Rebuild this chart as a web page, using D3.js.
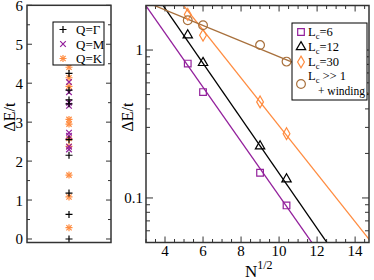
<!DOCTYPE html>
<html>
<head>
<meta charset="utf-8">
<script src="https://cdn.jsdelivr.net/npm/d3@7"></script>
<style>
  body { margin: 0; background: #fff; }
  text { font-family: "Liberation Serif", "DejaVu Serif", serif; fill: #000; }
</style>
</head>
<body>
<div id="chart"></div>
<script>
// left panel: excitation levels per momentum
const levelsGamma = [0, 0.63, 1.18, 2.15, 2.55, 3.47, 3.57, 3.82, 4.25];
const levelsM = [2.3, 2.37, 2.65, 2.73, 3.42, 3.5, 3.77, 4.03];
const levelsK = [0.29, 1.08, 1.64, 2.38, 2.58, 2.95, 3.07, 3.92, 4.14, 4.41];
const leftTicks = [0, 1, 2, 3, 4, 5, 6];

// right panel: gap vs sqrt(N)
const sqrtN = [5.196, 6, 9, 10.392];
const gapL6 = [0.81, 0.52, 0.148, 0.089];
const gapL12 = [1.26, 0.82, 0.224, 0.134];
const gapL30 = [1.74, 1.26, 0.446, 0.272];
const gapWind = [1.59, 1.47, 1.08, 0.835];

// fitted lines, two end points each
const fitL6 = [[3, 1.99], [12, 0.0445]];
const fitL12 = [[3, 2.94], [13, 0.0406]];
const fitL30 = [[3, 4.18], [15, 0.0475]];
const fitWind = [[3, 2.11], [15, 0.49]];

const xTicks = [4, 6, 8, 10, 12, 14];
const yTicks = [0.1, 1];

const purple = "#93209c", orange = "#ff8c40", brown = "#a8703c";

const svg = d3.select("#chart").append("svg")
    .attr("width", 374).attr("height", 280);

// ---------- left panel ----------
const xl = d3.scaleLinear().domain([0, 1]).range([27, 111]);
const yl = d3.scaleLinear().domain([-0.09, 6]).range([242.5, 5.3]);

const left = svg.append("g");

// ticks inward on both sides
const lMajor = leftTicks;
const lMinor = d3.range(0.5, 6, 1);
lMajor.forEach(v => {
    left.append("line").attr("x1", xl(0)).attr("x2", xl(0) + 5)
        .attr("y1", yl(v)).attr("y2", yl(v)).attr("stroke", "#333");
    left.append("line").attr("x1", xl(1)).attr("x2", xl(1) - 5)
        .attr("y1", yl(v)).attr("y2", yl(v)).attr("stroke", "#333");
    left.append("text").attr("x", xl(0) - 4).attr("y", yl(v) + 5.5)
        .attr("text-anchor", "end").style("font-size", "15px").text(v);
});
lMinor.forEach(v => {
    left.append("line").attr("x1", xl(0)).attr("x2", xl(0) + 3)
        .attr("y1", yl(v)).attr("y2", yl(v)).attr("stroke", "#333");
    left.append("line").attr("x1", xl(1)).attr("x2", xl(1) - 3)
        .attr("y1", yl(v)).attr("y2", yl(v)).attr("stroke", "#333");
});

const plus = (g, x, y, s, c) => {
    g.append("path").attr("d", `M${x - s},${y}H${x + s}M${x},${y - s}V${y + s}`)
        .attr("stroke", c).attr("stroke-width", 1.2).attr("fill", "none");
};
const cross = (g, x, y, s, c) => {
    g.append("path").attr("d", `M${x - s},${y - s}L${x + s},${y + s}M${x - s},${y + s}L${x + s},${y - s}`)
        .attr("stroke", c).attr("stroke-width", 1.2).attr("fill", "none");
};
const star = (g, x, y, s, c) => {
    plus(g, x, y, s, c);
    cross(g, x, y, s * 0.75, c);
};

levelsK.forEach(v => star(left, xl(0.5), yl(v), 3.5, orange));
levelsM.forEach(v => cross(left, xl(0.5), yl(v), 2.8, purple));
levelsGamma.forEach(v => plus(left, xl(0.5), yl(v), 3.5, "#000"));

left.append("rect").attr("x", xl(0)).attr("y", yl(6))
    .attr("width", xl(1) - xl(0)).attr("height", yl(-0.09) - yl(6))
    .attr("fill", "none").attr("stroke", "#333").attr("stroke-width", 1.5);

// legend
const lLeg = left.append("g");
lLeg.append("rect").attr("x", 53).attr("y", 22).attr("width", 51).attr("height", 43)
    .attr("fill", "#fff").attr("stroke", "#000");
const lItems = [["Q=\u0393", plus, "#000"], ["Q=M", cross, purple], ["Q=K", star, orange]];
lItems.forEach((d, i) => {
    const cy = 29.5 + i * 14.5;
    d[1](lLeg, 63, cy, d[1] === cross ? 2.8 : 3.5, d[2]);
    lLeg.append("text").attr("x", 76).attr("y", cy + 4.5)
        .style("font-size", "13px").text(d[0]);
});

left.append("text").attr("transform", "translate(15,117) rotate(-90)")
    .attr("text-anchor", "middle").style("font-size", "16px").text("\u0394E/t");

// ---------- right panel ----------
const xr = d3.scaleLinear().domain([3, 14.73]).range([146, 369]);
const yr = d3.scaleLog().domain([0.05, 2]).range([242.5, 5.5]);

const right = svg.append("g");

svg.append("clipPath").attr("id", "clipR").append("rect")
    .attr("x", xr(3)).attr("y", yr(2))
    .attr("width", xr(14.73) - xr(3)).attr("height", yr(0.05) - yr(2));

// x ticks, bottom and top
d3.range(3, 14.75, 0.5).forEach(v => {
    const major = xTicks.includes(v);
    const len = major ? 6 : 3.5;
    right.append("line").attr("x1", xr(v)).attr("x2", xr(v))
        .attr("y1", yr(0.05)).attr("y2", yr(0.05) - len).attr("stroke", "#333");
    right.append("line").attr("x1", xr(v)).attr("x2", xr(v))
        .attr("y1", yr(2)).attr("y2", yr(2) + len).attr("stroke", "#333");
});
xTicks.forEach(v => {
    right.append("text").attr("x", xr(v)).attr("y", 256)
        .attr("text-anchor", "middle").style("font-size", "15px").text(v);
});

// y ticks, log scale
const logTicks = [];
[0.01, 0.1, 1].forEach(d => d3.range(1, 10).forEach(k => {
    const v = d * k;
    if (v >= 0.05 && v <= 2.0001) logTicks.push(v);
}));
logTicks.forEach(v => {
    const major = yTicks.some(t => Math.abs(t - v) < 1e-9);
    const len = major ? 7 : 4;
    right.append("line").attr("x1", xr(3)).attr("x2", xr(3) + len)
        .attr("y1", yr(v)).attr("y2", yr(v)).attr("stroke", "#333");
    right.append("line").attr("x1", xr(14.73)).attr("x2", xr(14.73) - len)
        .attr("y1", yr(v)).attr("y2", yr(v)).attr("stroke", "#333");
});
yTicks.forEach(v => {
    right.append("text").attr("x", xr(3) - 3).attr("y", yr(v) + 5)
        .attr("text-anchor", "end").style("font-size", "15px").text(v);
});

// fit lines
const line = d3.line().x(d => xr(d[0])).y(d => yr(d[1]));
const fits = [[fitL6, purple], [fitL12, "#000"], [fitL30, orange], [fitWind, brown]];
fits.forEach(f => {
    right.append("path").datum(f[0]).attr("d", line)
        .attr("clip-path", "url(#clipR)")
        .attr("fill", "none").attr("stroke", f[1]).attr("stroke-width", 1.3);
});

// markers
const sq = d3.symbol().type(d3.symbolSquare).size(44);
const tri = d3.symbol().type(d3.symbolTriangle).size(38);
const dia = d3.symbol().type(d3.symbolDiamond).size(40);
const circ = d3.symbol().type(d3.symbolCircle).size(60);
const series = [[gapL6, sq, purple], [gapL12, tri, "#000"], [gapL30, dia, orange], [gapWind, circ, brown]];
series.forEach(s => {
    right.selectAll(null).data(s[0]).join("path")
        .attr("transform", (d, i) => `translate(${xr(sqrtN[i])},${yr(d)})`)
        .attr("d", s[1]).attr("fill", "none").attr("stroke", s[2]).attr("stroke-width", 1.2);
});

right.append("rect").attr("x", xr(3)).attr("y", yr(2))
    .attr("width", xr(14.73) - xr(3)).attr("height", yr(0.05) - yr(2))
    .attr("fill", "none").attr("stroke", "#333").attr("stroke-width", 1.5);

// legend
const rLeg = right.append("g");
rLeg.append("rect").attr("x", 292).attr("y", 23).attr("width", 75).attr("height", 77)
    .attr("fill", "#fff").attr("stroke", "#000");
const rItems = [["6", sq, purple, 32], ["12", tri, "#000", 47], ["30", dia, orange, 62]];
rItems.forEach(d => {
    rLeg.append("path").attr("transform", `translate(301,${d[3]})`).attr("d", d[1])
        .attr("fill", "none").attr("stroke", d[2]).attr("stroke-width", 1.2);
    const t = rLeg.append("text").attr("x", 308).attr("y", d[3] + 4).style("font-size", "12.5px");
    t.append("tspan").text("L");
    t.append("tspan").attr("dy", 3).style("font-size", "8.5px").text("c");
    t.append("tspan").attr("dy", -3).text("=" + d[0]);
});
rLeg.append("path").attr("transform", "translate(301,84)").attr("d", circ)
    .attr("fill", "none").attr("stroke", brown).attr("stroke-width", 1.2);
const tw = rLeg.append("text").attr("x", 308).attr("y", 80).style("font-size", "12.5px");
tw.append("tspan").text("L");
tw.append("tspan").attr("dy", 3).style("font-size", "8.5px").text("c");
tw.append("tspan").attr("dy", -3).text("  >> 1");
rLeg.append("text").attr("x", 318).attr("y", 95).style("font-size", "11.5px").text("+ winding");

// axis labels
right.append("text").attr("transform", "translate(133,117) rotate(-90)")
    .attr("text-anchor", "middle").style("font-size", "16px").text("\u0394E/t");
const xt = right.append("text").attr("x", 245).attr("y", 277).style("font-size", "17px");
xt.append("tspan").text("N");
xt.append("tspan").attr("dy", -8).style("font-size", "12px").text("1/2");
</script>
</body>
</html>
